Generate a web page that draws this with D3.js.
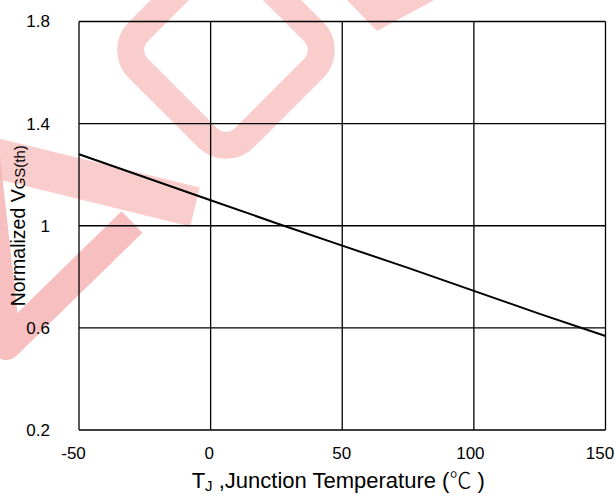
<!DOCTYPE html>
<html><head><meta charset="utf-8">
<script src="https://cdn.jsdelivr.net/npm/d3@7"></script>
<style>html,body{margin:0;padding:0;background:#fff;}svg{display:block;}</style>
</head><body>
<svg id="chart" width="616" height="496"></svg>
<script>
// Data
const temperatures = [-50, -25, 0, 25, 50, 75, 100, 125, 150];
const normalizedVgs = [1.28, 1.19, 1.10, 1.01, 0.922, 0.835, 0.745, 0.655, 0.568];
const xTicks = [-50, 0, 50, 100, 150];
const xTickLabels = ["-50", "0", "50", "100", "150"];
const yTicks = [0.2, 0.6, 1, 1.4, 1.8];
const yTickLabels = ["0.2", "0.6", "1", "1.4", "1.8"];

const W = 616, H = 496;
const margin = {left: 79, right: 10.5, top: 21.5, bottom: 66};
const svg = d3.select("#chart");
const font = "'Liberation Sans', Arial, sans-serif";

svg.append("rect").attr("width", W).attr("height", H).attr("fill", "#fff");

// Watermark (decorative, behind the chart)
const wm = svg.append("g").attr("fill", "none").attr("stroke-linejoin", "round");
const wmColor = "rgb(250,205,205)";
wm.append("rect").attr("x", -75).attr("y", -75).attr("width", 150).attr("height", 150)
  .attr("rx", 26).attr("transform", "translate(226,50) rotate(45)")
  .attr("stroke", wmColor).attr("stroke-width", 27);
const wmLine = d3.line();
wm.append("path").attr("d", wmLine([[-5, 158], [195, 207]])).attr("stroke", wmColor).attr("stroke-width", 40);
wm.append("path").attr("d", wmLine([[-18, 130], [6, 345], [132, 222]]))
  .attr("stroke", "rgb(246,180,180)").attr("stroke-width", 30).attr("stroke-opacity", 0.85);
wm.append("path").attr("d", "M345,-2 L438,-2 L377,31 Z").attr("fill", wmColor);

const x = d3.scaleLinear().domain([-50, 150]).range([margin.left, W - margin.right]);
const y = d3.scaleLinear().domain([0.2, 1.8]).range([H - margin.bottom, margin.top]);

// Grid
const grid = svg.append("g").attr("stroke", "#000").attr("stroke-width", 1.3);
grid.selectAll("line.v").data(xTicks).join("line")
  .attr("x1", d => x(d)).attr("x2", d => x(d))
  .attr("y1", y(1.8)).attr("y2", y(0.2));
grid.selectAll("line.h").data(yTicks).join("line")
  .attr("y1", d => y(d)).attr("y2", d => y(d))
  .attr("x1", x(-50)).attr("x2", x(150));

// Axes labels via d3 axes
const xShift = [-6, -2, -1, -4, -6];
const xAxis = d3.axisBottom(x).tickValues(xTicks).tickSize(0).tickPadding(17)
  .tickFormat((d, i) => xTickLabels[i]);
svg.append("g").attr("transform", `translate(0,${y(0.2)})`).call(xAxis)
  .call(g => g.select(".domain").remove())
  .call(g => g.selectAll("text").attr("font-family", font).attr("font-size", 17).attr("fill", "#000")
    .attr("dx", (d, i) => xShift[i]));

const yAxis = d3.axisLeft(y).tickValues(yTicks).tickSize(0).tickPadding(29)
  .tickFormat((d, i) => yTickLabels[i]);
svg.append("g").attr("transform", `translate(${x(-50)},0)`).call(yAxis)
  .call(g => g.select(".domain").remove())
  .call(g => g.selectAll("text").attr("font-family", font).attr("font-size", 17).attr("fill", "#000"));

// Data line
const line = d3.line().x((d, i) => x(temperatures[i])).y(d => y(d));
svg.append("path").datum(normalizedVgs).attr("d", line)
  .attr("fill", "none").attr("stroke", "#000").attr("stroke-width", 2);

// Y axis title
const cy = (y(1.8) + y(0.2)) / 2;
const yt = svg.append("text").attr("transform", `translate(25,${cy}) rotate(-90)`)
  .attr("text-anchor", "middle").attr("font-family", font).attr("font-size", 19.5).attr("fill", "#000");
yt.append("tspan").text("Normalized V");
yt.append("tspan").attr("font-size", 15).text("GS(th)");

// X axis title
const xt = svg.append("text").attr("x", (x(-50) + x(150)) / 2 - 4).attr("y", 488)
  .attr("text-anchor", "middle").attr("font-family", font).attr("font-size", 22).attr("fill", "#000");
xt.append("tspan").text("T");
xt.append("tspan").attr("font-size", 15).attr("dy", 3).text("J");
xt.append("tspan").attr("dy", -3).text(" ,Junction Temperature (");
xt.append("tspan").attr("font-family", "'Noto Sans CJK SC', sans-serif").attr("font-weight", 300).text("℃");
xt.append("tspan").text(" )");
</script>
</body></html>
